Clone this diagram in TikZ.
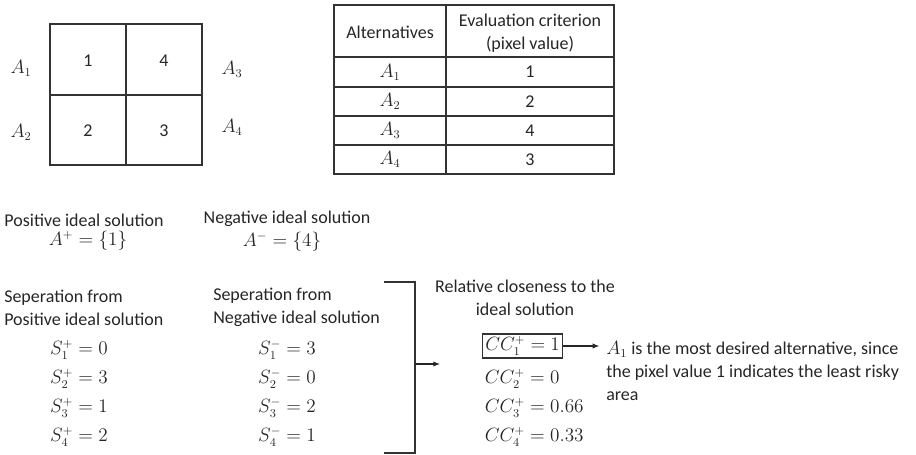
\documentclass[tikz,border=0pt]{standalone}
\usepackage{fontspec}
\setmainfont{Carlito}
\usetikzlibrary{arrows.meta}

\begin{document}
\begin{tikzpicture}[x=0.75pt,y=-0.75pt,
  every node/.style={font=\fontsize{13.5}{17}\selectfont,text=black!85,inner sep=0pt},
  ln/.style={draw=black!80,line width=0.9pt},
  arr/.style={draw=black!85,line width=0.8pt,-{Latex[length=5pt,width=4pt]}},
  txt/.style={align=left,anchor=west},
  ctr/.style={align=center}]
\useasboundingbox (0,0) rectangle (916,454);

% Pixel grid with alternatives
\draw[ln] (50,24) rectangle (202,165);
\draw[ln] (126,24) -- (126,165);
\draw[ln] (50,95) -- (202,95);
\node (p1) at (88,61) {1};
\node (p4) at (164,61) {4};
\node (p2) at (88,131) {2};
\node (p3) at (164,131) {3};
\node (a1) at (21,68) {$A_1$};
\node (a2) at (21,132) {$A_2$};
\node (a3) at (232,69) {$A_3$};
\node (a4) at (232,127) {$A_4$};

% Table of alternatives and pixel values
\draw[ln] (334,5) rectangle (614,174);
\draw[ln] (446,5) -- (446,174);
\foreach \y in {57,87,116,145}
  \draw[ln] (334,\y) -- (614,\y);
\node (thalt) at (390,32) {Alternatives};
\node[ctr] (thval) at (530,33) {Evaluation criterion\\(pixel value)};
\foreach \y/\a/\v in {72/1/1,101.5/2/2,130.5/3/4,159.5/4/3} {
  \node (ta\a) at (390,\y) {$A_{\a}$};
  \node (tv\a) at (530,\y) {\v};
}

% Ideal solutions
\node (pis) at (84,220) {Positive ideal solution};
\node (pisv) at (88,241) {$A^{+} = \{1\}$};
\node (nis) at (287,219) {Negative ideal solution};
\node (nisv) at (282,242) {$A^{-} = \{4\}$};

% Separation measures
\node[txt] (sepp) at (4,308) {Seperation from\\Positive ideal solution};
\node[txt] (sepn) at (213,307) {Seperation from\\Negative ideal solution};
\foreach \y/\i/\p/\n in {350/1/0/3,379/2/3/0,408/3/1/2,437/4/2/1} {
  \node (sp\i) at (79,\y) {$S_{\i}^{+} = \p$};
  \node (sn\i) at (287,\y) {$S_{\i}^{-} = \n$};
}

% Bracket joining both separations
\draw[ln] (384,282) -- (415,282) -- (415,453) -- (384,453);
\coordinate (brk) at (415,364);
\coordinate (rcin) at (440,364);
\draw[arr] (brk) -- (rcin);

% Relative closeness
\node[ctr] (rc) at (525,298) {Relative closeness to the\\ideal solution};
\node[txt,draw=black!80,line width=0.9pt,inner sep=2pt] (cc1) at (482,346) {$CC_1^{+} = 1$};
\node[txt,inner sep=2pt] (cc2) at (482,379) {$CC_2^{+} = 0$};
\node[txt,inner sep=2pt] (cc3) at (482,408) {$CC_3^{+} = 0.66$};
\node[txt,inner sep=2pt] (cc4) at (482,437) {$CC_4^{+} = 0.33$};

% Conclusion
\node[txt] (res) at (606,371) {$A_1$ is the most desired alternative, since\\the pixel value 1 indicates the least risky\\area};
\draw[arr] (cc1.east) -- ([xshift=-5pt]cc1.east -| res.west);

\end{tikzpicture}
\end{document}
